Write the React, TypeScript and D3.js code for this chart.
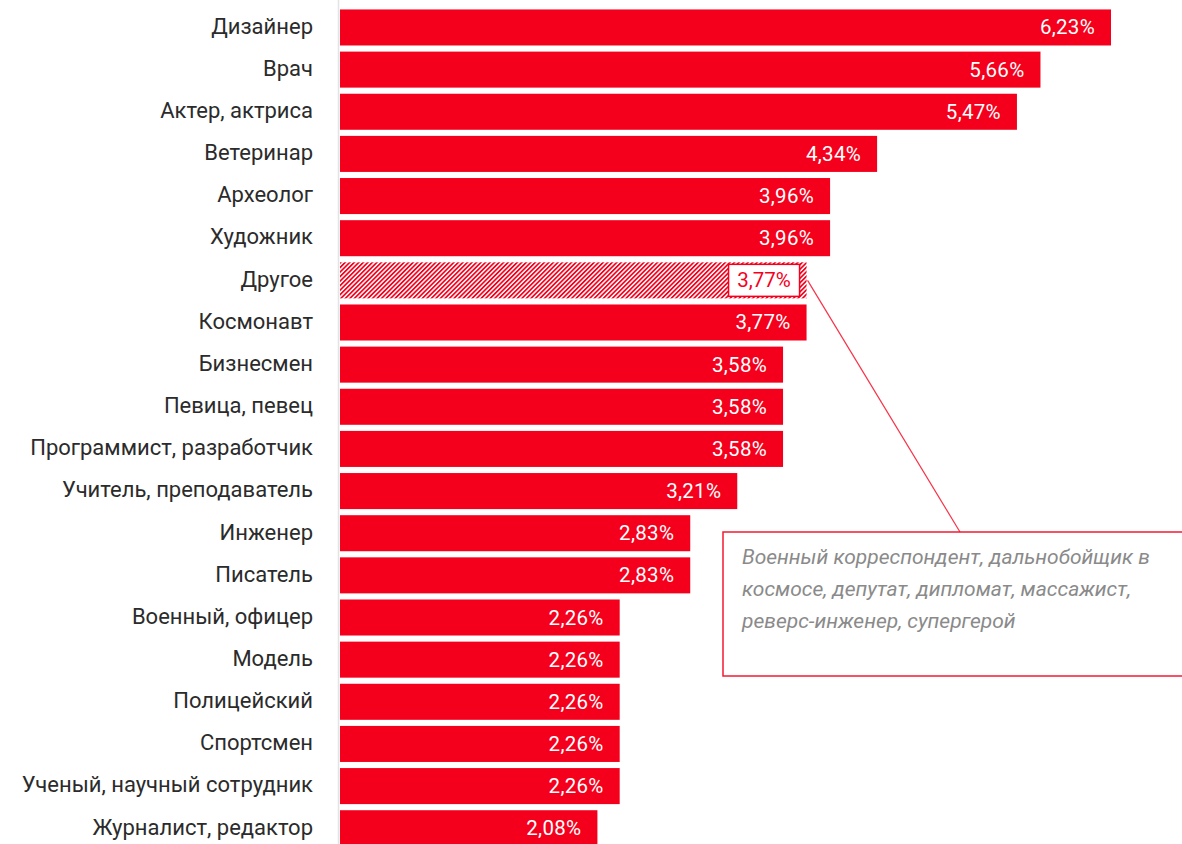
import React from "react";
import * as d3 from "d3";

const categories = [
  "Дизайнер",
  "Врач",
  "Актер, актриса",
  "Ветеринар",
  "Археолог",
  "Художник",
  "Другое",
  "Космонавт",
  "Бизнесмен",
  "Певица, певец",
  "Программист, разработчик",
  "Учитель, преподаватель",
  "Инженер",
  "Писатель",
  "Военный, офицер",
  "Модель",
  "Полицейский",
  "Спортсмен",
  "Ученый, научный сотрудник",
  "Журналист, редактор",
];
const values = [6.23, 5.66, 5.47, 4.34, 3.96, 3.96, 3.77, 3.77, 3.58, 3.58, 3.58, 3.21, 2.83, 2.83, 2.26, 2.26, 2.26, 2.26, 2.26, 2.08];
const otherCategory = "Другое";
const noteLines = [
  "Военный корреспондент, дальнобойщик в",
  "космосе, депутат, дипломат, массажист,",
  "реверс-инженер, супергерой",
];

const W = 1182;
const H = 844;
const RED = "#f5001c";
const fmt = (v: number) => v.toFixed(2).replace(".", ",") + "%";

export default function App() {
  const x0 = 340;
  const x = d3.scaleLinear().domain([0, 6.23]).range([x0, 1111]);
  const y = d3
    .scaleBand<string>()
    .domain(categories)
    .range([6.5, 807 + 42.2])
    .paddingInner(0.145)
    .paddingOuter(0.07);
  const bh = y.bandwidth();
  const otherIdx = categories.indexOf(otherCategory);
  const oy = y(otherCategory)!;
  const ox = x(values[otherIdx]);

  const boxX = 723;
  const boxY = 532;
  const boxW = 470;
  const boxH = 144;

  return (
    <svg width={W} height={H} style={{ position: "absolute", left: 0, top: 0 }}>
      <defs>
        <pattern id="hatch" patternUnits="userSpaceOnUse" width={3.2} height={3.2} patternTransform="rotate(45)">
          <rect width={3.2} height={3.2} fill="#fff" />
          <rect width={1.7} height={3.2} fill={RED} />
        </pattern>
      </defs>
      <rect width={W} height={H} fill="#fff" />
      <line x1={x0 - 1.5} x2={x0 - 1.5} y1={0} y2={H} stroke="#e4e4e4" strokeWidth={1.5} />
      {categories.map((c, i) => {
        const yy = y(c)!;
        const isOther = c === otherCategory;
        return (
          <g key={c}>
            <rect x={x0} y={yy} width={x(values[i]) - x0} height={bh} fill={isOther ? "url(#hatch)" : RED} />
            <text
              x={313}
              y={yy + bh / 2 + 6.3}
              textAnchor="end"
              fontFamily="Roboto, sans-serif"
              fontSize={22}
              fill="#2b2b2b"
            >
              {c}
            </text>
            {isOther ? (
              <g>
                <rect x={x(values[i]) - 78} y={yy + 2} width={71} height={bh - 4} fill="#fff" stroke={RED} strokeWidth={1.5} />
                <text
                  x={x(values[i]) - 42.5}
                  y={yy + bh / 2 + 7}
                  textAnchor="middle"
                  fontFamily="Roboto, sans-serif"
                  fontSize={20.5}
                  fill={RED}
                >
                  {fmt(values[i])}
                </text>
              </g>
            ) : (
              <text
                x={x(values[i]) - 16}
                y={yy + bh / 2 + 7}
                textAnchor="end"
                fontFamily="Roboto, sans-serif"
                fontSize={20.5}
                letterSpacing={0.3}
                fill="#fff"
              >
                {fmt(values[i])}
              </text>
            )}
          </g>
        );
      })}
      <line x1={ox + 1} y1={oy + bh / 2} x2={960} y2={boxY} stroke={RED} strokeWidth={1.2} opacity={0.8} />
      <rect x={boxX} y={boxY} width={boxW} height={boxH} fill="#fff" stroke={RED} strokeWidth={1.5} opacity={0.9} />
      {noteLines.map((l, i) => (
        <text
          key={i}
          x={boxX + 19}
          y={boxY + 32 + i * 32}
          fontFamily="Roboto, sans-serif"
          fontStyle="italic"
          fontSize={21}
          fill="#8a8a8a"
        >
          {l}
        </text>
      ))}
    </svg>
  );
}
